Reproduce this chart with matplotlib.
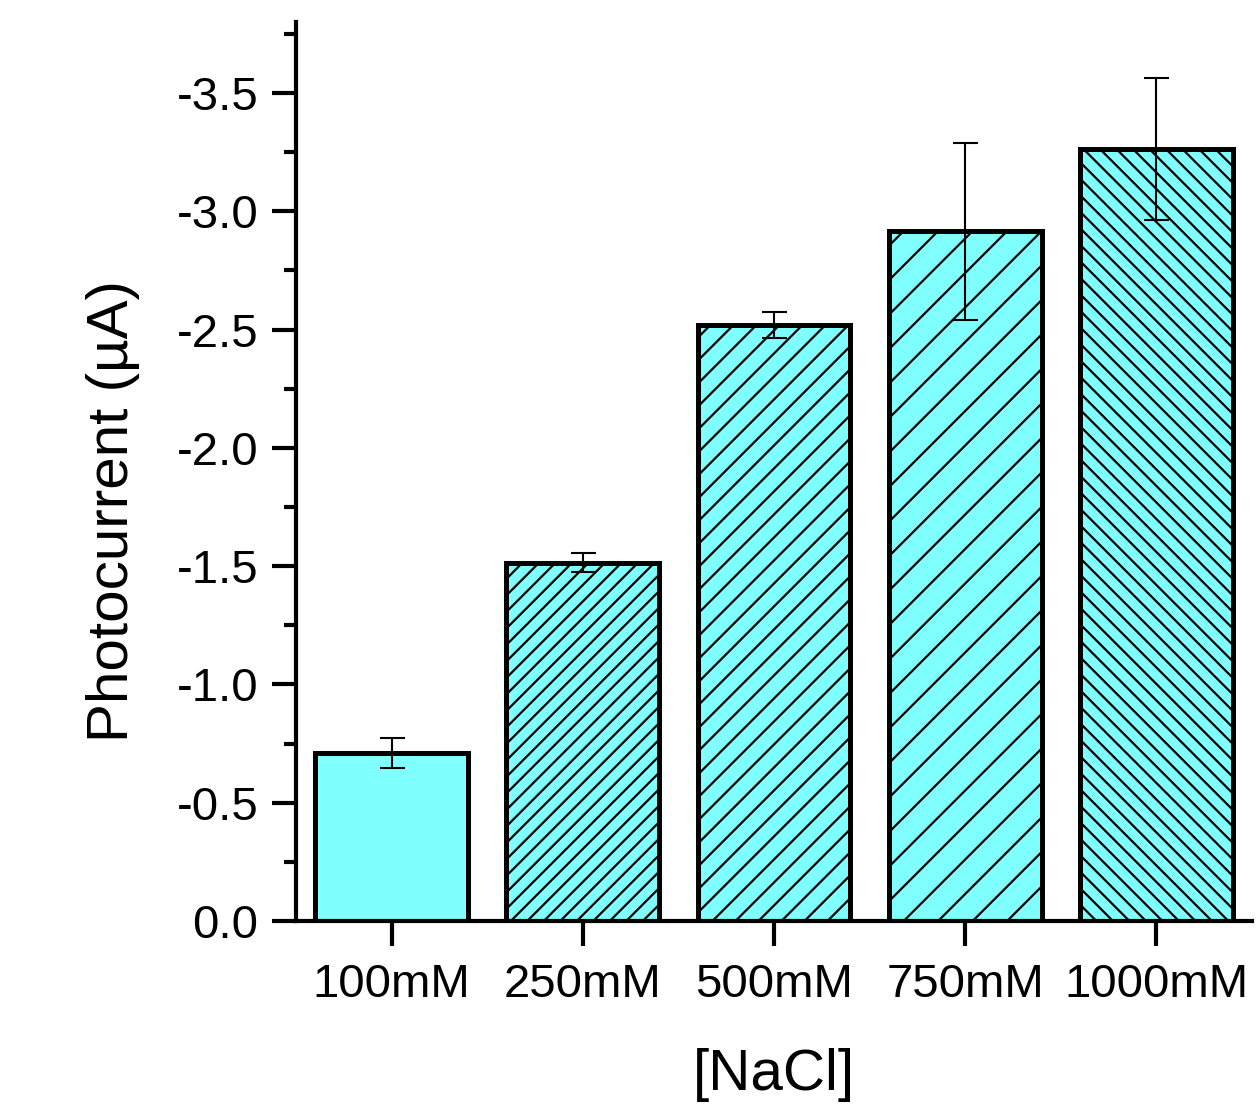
import numpy as np
import matplotlib
matplotlib.use("Agg")
import matplotlib.pyplot as plt
from matplotlib.lines import Line2D
from matplotlib.transforms import IdentityTransform
from matplotlib.ticker import MultipleLocator, FuncFormatter

plt.rcParams["font.family"] = ["Liberation Sans", "DejaVu Sans"]
plt.rcParams["axes.unicode_minus"] = False

categories = ["100mM", "250mM", "500mM", "750mM", "1000mM"]
photocurrent = [-0.71, -1.515, -2.52, -2.915, -3.265]
errors = [0.063, 0.04, 0.055, 0.375, 0.30]
# hatch: direction and spacing in pixels (None = plain)
hatch_dir = [None, "/", "/", "/", "\\"]
hatch_gap = [None, 16.5, 23, 34.5, 16.5]

FILL = "#80ffff"

fig = plt.figure(figsize=(12.6, 11.18), dpi=100)
ax = fig.add_axes([296 / 1260, 1 - 921 / 1118, (1252 - 296) / 1260, (921 - 22) / 1118])

x = np.arange(len(categories))
ax.set_xlim(-0.5, len(categories) - 0.5)
ax.set_ylim(0, -3.8)

bars = ax.bar(x, photocurrent, width=0.8, color=FILL, edgecolor="none", zorder=2)

# hand-made hatching so each bar can have its own line spacing
for bar, d, gap in zip(bars, hatch_dir, hatch_gap):
    if d is None:
        continue
    bb = bar.get_window_extent()
    x0, x1, y0, y1 = bb.x0, bb.x1, bb.y0, bb.y1
    xs = np.array([x0 - 5, x1 + 5])
    if d == "/":
        cs = np.arange(y0 - x1 - gap, y1 - x0 + gap, gap)
        segs = [(xs, xs + c) for c in cs]
    else:
        cs = np.arange(y0 + x0 - gap, y1 + x1 + gap, gap)
        segs = [(xs, c - xs) for c in cs]
    for sx, sy in segs:
        ln = Line2D(sx, sy, transform=IdentityTransform(), color="black",
                    lw=1.6, zorder=2.5, solid_capstyle="butt")
        ax.add_line(ln)
        ln.set_clip_path(bar)  # after add_line, else it gets the axes clip

ax.bar(x, photocurrent, width=0.8, color="none", edgecolor="black", linewidth=3.6, zorder=3)

ax.errorbar(x, photocurrent, yerr=errors, fmt="none", ecolor="black",
            elinewidth=1.5, capsize=9, capthick=1.5, zorder=4)

for s in ["top", "right"]:
    ax.spines[s].set_visible(False)
for s in ["left", "bottom"]:
    ax.spines[s].set_linewidth(3)

ax.set_xticks(x)
ax.set_xticklabels(categories)
ax.yaxis.set_major_locator(MultipleLocator(0.5))
ax.yaxis.set_minor_locator(MultipleLocator(0.25))
ax.yaxis.set_major_formatter(FuncFormatter(lambda v, p: f"{v:.1f}" if abs(v) > 1e-9 else "0.0"))

ax.tick_params(axis="y", which="major", direction="out", length=17, width=3,
               labelsize=34, pad=10)
ax.tick_params(axis="y", which="minor", direction="out", length=9, width=3)
ax.tick_params(axis="x", which="major", direction="out", length=18, width=3,
               labelsize=34, pad=12)

ax.set_ylabel("Photocurrent (µA)", fontsize=42)
ax.yaxis.set_label_coords(-0.163, 0.456)
ax.set_xlabel("[NaCl]", fontsize=42, labelpad=30)

fig.savefig("out.png", dpi=100)
